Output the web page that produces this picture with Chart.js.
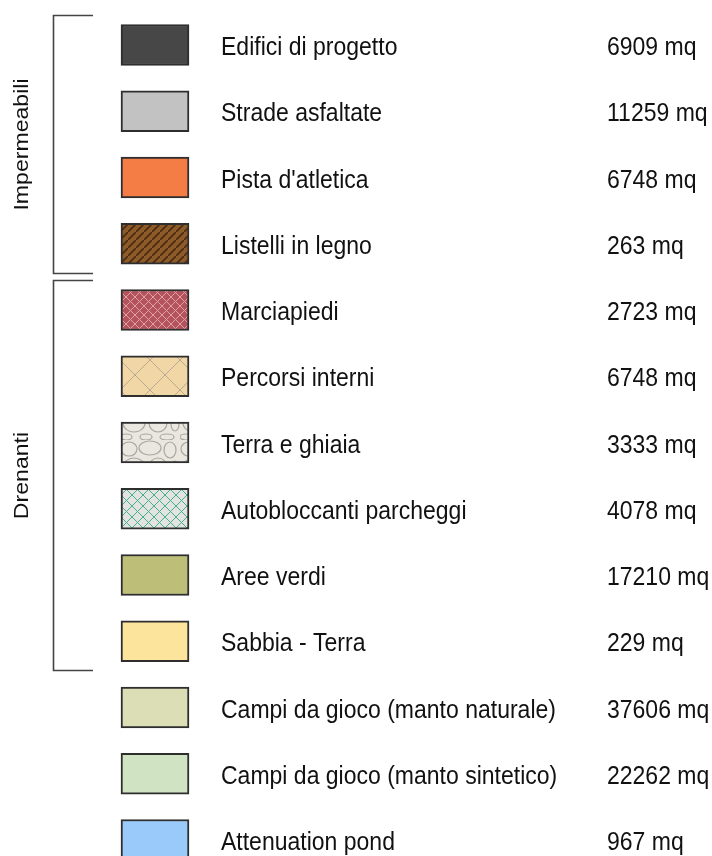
<!DOCTYPE html>
<html lang="it">
<head>
    <meta charset="utf-8">
    <title>Superfici di progetto</title>
    <script src="https://cdn.jsdelivr.net/npm/chart.js@4"></script>
    <style>
        html, body { margin: 0; padding: 0; background: #fff; }
        #wrap { width: 712px; height: 856px; position: relative; }
    </style>
</head>
<body>
    <div id="wrap"><canvas id="legendChart"></canvas></div>

    <script>
        // data
        const categories = [
            'Edifici di progetto', 'Strade asfaltate', "Pista d'atletica", 'Listelli in legno',
            'Marciapiedi', 'Percorsi interni', 'Terra e ghiaia', 'Autobloccanti parcheggi',
            'Aree verdi', 'Sabbia - Terra', 'Campi da gioco (manto naturale)',
            'Campi da gioco (manto sintetico)', 'Attenuation pond'
        ];
        const areas = [6909, 11259, 6748, 263, 2723, 6748, 3333, 4078, 17210, 229, 37606, 22262, 967];
        const unit = 'mq';
        const groupNames = ['Impermeabili', 'Drenanti'];
        const groupStart = [0, 4];
        const groupEnd = [3, 9];

        const FONT = '"Liberation Sans", Arial, sans-serif';

        // small tiles used as fill patterns for the swatches
        const tile = (w, h, base, draw) => {
            const c = document.createElement('canvas');
            c.width = w; c.height = h;
            const g = c.getContext('2d');
            g.fillStyle = base;
            g.fillRect(0, 0, w, h);
            if (draw) draw(g, w, h);
            return g.createPattern(c, 'repeat');
        };
        const hatch = (color, width) => (g, s) => {
            g.strokeStyle = color; g.lineWidth = width;
            g.beginPath();
            g.moveTo(-1, s + 1); g.lineTo(s + 1, -1);
            g.stroke();
        };
        const cross = (color, width) => (g, s) => {
            g.strokeStyle = color; g.lineWidth = width;
            g.beginPath();
            g.moveTo(0, 0); g.lineTo(s, s);
            g.moveTo(0, s); g.lineTo(s, 0);
            g.stroke();
        };
        // pebbles for "Terra e ghiaia"
        const stones = (g) => {
            g.strokeStyle = '#a9a8a1'; g.lineWidth = 1.2;
            [[9, 9, 8, 7], [30, 8, 11, 7], [50, 10, 6, 8], [14, 27, 11, 9], [38, 27, 9, 9],
             [55, 28, 4, 7], [6, 41, 6, 3], [26, 41, 6, 3], [47, 41, 7, 3]].forEach(([x, y, rx, ry]) => {
                g.beginPath();
                g.ellipse(x, y, rx, ry, 0, 0, Math.PI * 2);
                g.stroke();
            });
        };

        const fills = [
            '#474747',
            '#c2c2c2',
            '#f47d46',
            tile(8, 8, '#8d5b2a', hatch('#4a2a10', 1.6)),
            tile(9, 9, '#b4535b', cross('#dea0a4', 1)),
            tile(30, 30, '#f1d6a6', cross('#b9ab93', 1)),
            tile(60, 44, '#e9e7df', stones),
            tile(11, 11, '#e3e3e1', cross('#43b08e', 1)),
            '#bdbf78',
            '#fce49c',
            '#dcdeb6',
            '#d0e3c2',
            '#99caf9'
        ];

        // texts, brackets and group labels
        const textPlugin = {
            id: 'legendText',
            afterDatasetsDraw(chart) {
                const ctx = chart.ctx;
                const y = chart.scales.y;
                const put = (text, x, py, size, vertical) => {
                    ctx.save();
                    ctx.translate(x, py);
                    if (vertical) {
                        ctx.rotate(-Math.PI / 2);
                        ctx.scale(1.1, 1);
                        ctx.textAlign = 'center';
                        ctx.textBaseline = 'middle';
                    } else {
                        ctx.scale(1, 1.1);
                        ctx.textAlign = 'left';
                        ctx.textBaseline = 'alphabetic';
                    }
                    ctx.font = size + 'px ' + FONT;
                    ctx.fillStyle = '#111';
                    ctx.fillText(text, 0, 0);
                    ctx.restore();
                };

                categories.forEach((name, i) => {
                    const py = y.getPixelForValue(i) + 10;
                    put(name, 221, py, 23);
                    put(areas[i] + ' ' + unit, 607, py, 23);
                });

                ctx.save();
                ctx.strokeStyle = '#444';
                ctx.lineWidth = 1.6;
                groupNames.forEach((name, k) => {
                    const top = Math.round(y.getPixelForValue(groupStart[k] - 0.5) + 3) + 0.5;
                    const bottom = Math.round(y.getPixelForValue(groupEnd[k] + 0.5) - 4) + 0.5;
                    ctx.beginPath();
                    ctx.moveTo(93, top);
                    ctx.lineTo(53.5, top);
                    ctx.lineTo(53.5, bottom);
                    ctx.lineTo(93, bottom);
                    ctx.stroke();
                    put(name, 22, (top + bottom) / 2, 21, true);
                });
                ctx.restore();
            }
        };

        new Chart(document.getElementById('legendChart'), {
            type: 'bar',
            data: {
                labels: categories,
                datasets: [{
                    data: categories.map(() => [0, 1]),
                    backgroundColor: fills,
                    borderColor: '#2e2e2e',
                    borderWidth: 2,
                    borderSkipped: false,
                    barThickness: 41,
                    clip: false
                }]
            },
            options: {
                indexAxis: 'y',
                responsive: true,
                maintainAspectRatio: false,
                animation: false,
                layout: { padding: { left: 121, right: 523, top: 45, bottom: 16 } },
                scales: {
                    x: { display: false, min: 0, max: 1 },
                    y: { display: false, offset: false }
                },
                plugins: {
                    legend: { display: false },
                    tooltip: { enabled: false }
                }
            },
            plugins: [textPlugin]
        });
    </script>
</body>
</html>
